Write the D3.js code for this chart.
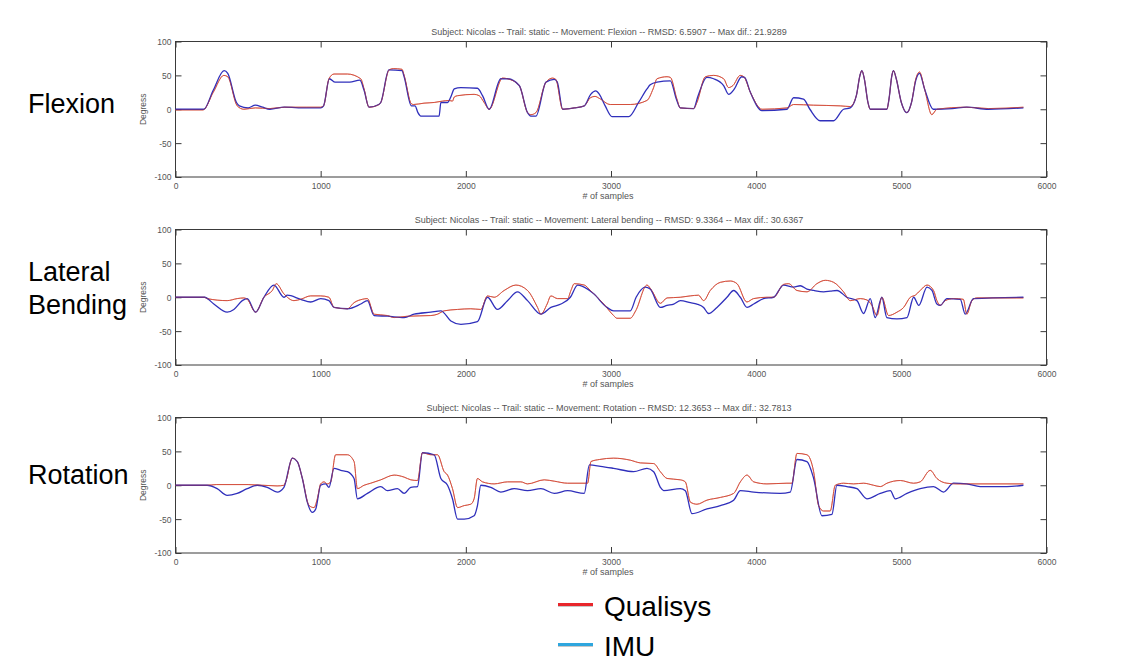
<!DOCTYPE html>
<html>
<head>
<meta charset="utf-8">
<script src="https://cdn.jsdelivr.net/npm/d3@7"></script>
<style>
  html, body { margin: 0; padding: 0; background: #fff; }
  svg { display: block; font-family: Arial, "Liberation Sans", sans-serif; }
</style>
</head>
<body>
<svg id="chart" width="1136" height="662"></svg>
<script>
// sample index vs degrees
var sampleTicks = [0, 1000, 2000, 3000, 4000, 5000, 6000];
var degreeTicks = [-100, -50, 0, 50, 100];

var flexionQualisys = [[0,-1],[190,-1],[260,25],[333,50],[360,48],[425,5],[471,0],[550,2],[650,1],[750,3],[900,3],[1000,3],[1020,5],[1057,45],[1092,52],[1184,52],[1276,45],[1299,30],[1333,3],[1402,7],[1414,10],[1471,58],[1500,60],[1560,59],[1575,50],[1625,8],[1640,7],[1712,9],[1782,10],[1839,12],[1885,13],[1908,12],[1920,18],[1943,20],[2057,22],[2092,20],[2126,10],[2161,0],[2253,46],[2287,45],[2368,35],[2425,-5],[2448,-8],[2483,-5],[2552,40],[2598,46],[2620,44],[2667,0],[2747,2],[2816,5],[2858,17],[2890,19],[2920,16],[2995,7],[3133,7],[3248,13],[3290,30],[3317,45],[3386,48],[3409,47],[3454,15],[3477,2],[3569,1],[3592,10],[3650,48],[3707,50],[3776,45],[3810,32],[3840,35],[3890,50],[3915,48],[3960,25],[4040,0],[4212,2],[4258,7],[4395,6],[4579,5],[4648,4],[4690,20],[4715,50],[4728,57],[4745,45],[4770,10],[4786,0],[4900,0],[4915,15],[4935,50],[4946,57],[4965,45],[5000,10],[5038,-5],[5070,10],[5100,45],[5125,55],[5160,30],[5210,-8],[5245,0],[5450,3],[5600,1],[5841,3]];
var flexionImu = [[0,0],[195,0],[260,28],[335,57],[360,53],[420,10],[440,5],[500,2],[550,6],[600,3],[650,0],[750,3],[900,2],[1000,2],[1020,5],[1060,45],[1100,40],[1200,40],[1270,43],[1299,28],[1333,3],[1400,7],[1414,10],[1470,58],[1560,57],[1575,48],[1625,5],[1650,5],[1670,-5],[1690,-10],[1816,-10],[1828,10],[1874,10],[1900,20],[1920,30],[1966,32],[2080,31],[2115,20],[2161,0],[2241,45],[2287,45],[2368,35],[2425,-5],[2448,-10],[2483,-10],[2552,40],[2609,44],[2630,40],[2667,0],[2747,2],[2816,5],[2860,22],[2895,27],[2920,22],[2960,5],[3007,-11],[3122,-11],[3190,10],[3248,30],[3270,36],[3317,40],[3409,42],[3450,15],[3477,2],[3569,1],[3600,20],[3660,47],[3707,45],[3776,35],[3810,22],[3850,30],[3900,48],[3920,47],[3960,25],[4040,-2],[4212,0],[4258,17],[4326,15],[4370,0],[4441,-17],[4533,-17],[4602,0],[4648,2],[4690,20],[4715,50],[4728,57],[4745,45],[4770,10],[4786,0],[4900,0],[4915,15],[4935,50],[4946,57],[4965,45],[5000,10],[5038,-5],[5070,10],[5100,43],[5125,53],[5160,30],[5220,0],[5350,1],[5451,3],[5600,0],[5841,2]];

var lateralQualisys = [[0,0],[200,0],[218,-2],[356,-5],[425,-2],[471,-1],[494,-3],[552,-22],[609,0],[667,10],[694,20],[747,5],[816,-5],[862,-3],[931,2],[1000,2],[1057,0],[1092,-15],[1184,-17],[1230,-8],[1287,-3],[1322,-2],[1368,-25],[1460,-27],[1506,-30],[1598,-28],[1759,-27],[1805,-25],[1851,-20],[1943,-18],[2034,-17],[2103,-18],[2149,2],[2195,0],[2264,10],[2345,18],[2425,10],[2494,-15],[2517,-25],[2560,-10],[2586,2],[2632,-2],[2701,-2],[2724,10],[2747,20],[2816,18],[2858,10],[2950,-10],[3018,-27],[3040,-31],[3133,-31],[3170,-20],[3248,18],[3280,10],[3340,-9],[3386,-1],[3477,0],[3546,2],[3603,3],[3638,-5],[3684,10],[3753,22],[3822,24],[3868,20],[3936,-7],[3982,-2],[4074,0],[4120,0],[4189,19],[4224,20],[4281,10],[4350,8],[4418,20],[4476,25],[4534,22],[4602,8],[4648,-5],[4717,-2],[4763,-4],[4797,-12],[4832,-27],[4866,0],[4912,-27],[4970,-22],[5016,-15],[5062,0],[5096,3],[5130,10],[5177,18],[5222,10],[5245,-5],[5268,-12],[5302,-5],[5360,-2],[5427,-3],[5451,-25],[5486,-5],[5520,-1],[5841,-1]];
var lateralImu = [[0,0],[200,0],[264,-10],[356,-22],[402,-18],[460,-5],[494,-2],[552,-22],[609,0],[678,18],[747,0],[770,3],[862,-3],[931,-7],[1000,-2],[1057,-5],[1092,-15],[1184,-17],[1276,-10],[1322,-5],[1368,-27],[1460,-28],[1575,-30],[1644,-25],[1759,-22],[1828,-20],[1897,-35],[1966,-40],[2080,-36],[2149,0],[2218,-18],[2287,-5],[2356,8],[2425,-5],[2517,-25],[2586,-15],[2655,-10],[2720,0],[2770,18],[2839,12],[2881,5],[2972,-15],[3018,-20],[3133,-20],[3173,0],[3236,15],[3270,12],[3340,-15],[3386,-12],[3432,-10],[3478,-5],[3547,-8],[3592,-10],[3638,-15],[3672,-24],[3730,-15],[3799,0],[3845,10],[3891,0],[3937,-15],[3983,-10],[4051,-2],[4120,0],[4189,18],[4258,15],[4304,17],[4350,12],[4396,10],[4465,8],[4511,9],[4557,10],[4625,0],[4694,-5],[4740,-24],[4786,-2],[4820,-30],[4866,0],[4900,-30],[4970,-32],[5039,-30],[5085,0],[5120,-12],[5177,15],[5211,10],[5245,-10],[5268,-12],[5314,-2],[5406,-3],[5440,-25],[5497,-2],[5841,0]];

var rotationQualisys = [[0,0],[218,0],[280,1],[500,1],[700,-1],[747,0],[759,5],[805,40],[839,35],[874,10],[920,-30],[954,-33],[977,-20],[1000,2],[1023,5],[1046,2],[1069,5],[1103,45],[1184,45],[1230,35],[1253,-5],[1299,0],[1345,3],[1414,8],[1506,15],[1575,12],[1621,8],[1667,7],[1701,48],[1759,45],[1805,45],[1851,20],[1874,15],[1908,-5],[1943,-33],[1989,-30],[2034,-28],[2057,-20],[2080,10],[2115,5],[2195,2],[2287,5],[2379,5],[2425,2],[2540,8],[2609,6],[2701,3],[2839,3],[2862,35],[2920,38],[3018,40],[3133,37],[3202,33],[3294,32],[3340,20],[3386,10],[3478,8],[3512,5],[3547,-25],[3592,-28],[3661,-22],[3753,-18],[3845,-12],[3891,5],[3937,15],[3983,5],[4074,2],[4212,3],[4246,3],[4281,47],[4350,45],[4396,20],[4430,-30],[4464,-38],[4510,-38],[4545,0],[4602,3],[4671,2],[4740,3],[4809,0],[4855,-2],[4901,3],[4993,7],[5084,3],[5130,5],[5199,22],[5245,10],[5314,3],[5383,2],[5841,2]];
var rotationImu = [[0,0],[218,0],[287,-5],[356,-15],[425,-12],[494,-5],[563,0],[632,-3],[701,-10],[747,-3],[805,40],[839,35],[874,10],[908,-25],[943,-40],[966,-35],[1000,0],[1034,2],[1057,-3],[1092,25],[1138,22],[1184,20],[1230,10],[1253,-20],[1322,-12],[1414,-2],[1460,-8],[1529,-5],[1575,-12],[1621,-3],[1667,-2],[1701,48],[1782,45],[1828,10],[1874,0],[1908,-20],[1943,-50],[1989,-50],[2057,-45],[2080,-30],[2103,0],[2172,-3],[2241,-10],[2333,-5],[2425,-8],[2517,-5],[2609,-12],[2701,-8],[2816,-12],[2851,30],[2927,28],[3018,25],[3156,20],[3248,25],[3294,20],[3340,-3],[3363,-8],[3478,-5],[3512,-8],[3558,-42],[3661,-35],[3753,-30],[3845,-22],[3891,-8],[3983,-10],[4166,-12],[4235,-10],[4281,38],[4350,35],[4396,10],[4453,-45],[4522,-43],[4556,0],[4625,-2],[4694,-5],[4763,-20],[4855,-12],[4924,-8],[4958,-20],[5039,-12],[5130,-5],[5222,-2],[5291,-10],[5360,3],[5451,2],[5543,-2],[5727,-2],[5841,0]];

var panelNames = ["Flexion", "Lateral bending", "Rotation"];
var sideLabels = [["Flexion"], ["Lateral", "Bending"], ["Rotation"]];
var rmsd = ["6.5907", "9.3364", "12.3653"];
var maxDif = ["21.9289", "30.6367", "32.7813"];
var qualisysSeries = [flexionQualisys, lateralQualisys, rotationQualisys];
var imuSeries = [flexionImu, lateralImu, rotationImu];
var legendItems = ["Qualisys", "IMU"];

var svg = d3.select("#chart");
var left = 175.5, right = 1046.5, plotH = 135.5;
var tops = [41.5, 229.5, 417.5];
// baseline offsets of the big side labels from the zero line
var labelOffsets = [[4], [-16, 17], [-1]];

var x = d3.scaleLinear().domain([0, 6000]).range([left, right]);
var redColor = "#d4503e", blueColor = "#1818b4";
var plain = function(d){ return String(d); };

panelNames.forEach(function(name, i){
    var top = tops[i];
    var y = d3.scaleLinear().domain([-100, 100]).range([top + plotH, top]);
    var g = svg.append("g");

    // box and inward ticks, matlab style
    g.append("rect")
        .attr("x", left).attr("y", top)
        .attr("width", right - left).attr("height", plotH)
        .attr("fill", "#fff").attr("stroke", "#3a3a3a").attr("stroke-width", 1);

    var xb = g.append("g").attr("transform", "translate(0," + (top + plotH) + ")")
        .call(d3.axisBottom(x).tickValues(sampleTicks).tickFormat(plain).tickSizeInner(-6).tickSizeOuter(0).tickPadding(4));
    var xt = g.append("g").attr("transform", "translate(0," + top + ")")
        .call(d3.axisTop(x).tickValues(sampleTicks).tickSizeInner(-6).tickSizeOuter(0).tickFormat(""));
    var yl = g.append("g").attr("transform", "translate(" + left + ",0)")
        .call(d3.axisLeft(y).tickValues(degreeTicks).tickFormat(plain).tickSizeInner(-6).tickSizeOuter(0).tickPadding(4));
    var yr = g.append("g").attr("transform", "translate(" + right + ",0)")
        .call(d3.axisRight(y).tickValues(degreeTicks).tickSizeInner(-6).tickSizeOuter(0).tickFormat(""));

    [xb, xt, yl, yr].forEach(function(a){
        a.select(".domain").remove();
        a.selectAll("line").attr("stroke", "#3a3a3a");
        a.selectAll("text").attr("fill", "#555").style("font-size", "8.5px")
            .style("font-family", "Arial, 'Liberation Sans', sans-serif");
    });
    xb.selectAll("text").attr("dy", "0.9em");
    yl.selectAll("text").attr("dy", "0.35em");

    var line = d3.line()
        .x(function(d){ return x(d[0]); })
        .y(function(d){ return y(d[1]); })
        .curve(d3.curveMonotoneX);

    g.append("path").datum(qualisysSeries[i])
        .attr("d", line).attr("fill", "none")
        .attr("stroke", redColor).attr("stroke-width", 1);
    g.append("path").datum(imuSeries[i])
        .attr("d", line).attr("fill", "none")
        .attr("stroke", blueColor).attr("stroke-width", 1.3).attr("stroke-opacity", 0.9);
    g.append("path").datum(qualisysSeries[i])
        .attr("d", line).attr("fill", "none")
        .attr("stroke", redColor).attr("stroke-width", 0.8).attr("stroke-opacity", 0.6);

    g.append("text")
        .attr("x", 609).attr("y", top - 7)
        .attr("text-anchor", "middle").attr("fill", "#555").style("font-size", "9px")
        .text("Subject: Nicolas -- Trail: static -- Movement: " + name + " -- RMSD: " + rmsd[i] + " -- Max dif.: " + maxDif[i]);

    g.append("text")
        .attr("x", 608).attr("y", top + plotH + 22)
        .attr("text-anchor", "middle").attr("fill", "#555").style("font-size", "9px")
        .text("# of samples");

    g.append("text")
        .attr("transform", "translate(146," + y(0) + ") rotate(-90)")
        .attr("text-anchor", "middle").attr("fill", "#555").style("font-size", "8.5px")
        .text("Degress");

    sideLabels[i].forEach(function(t, k){
        g.append("text")
            .attr("x", 28).attr("y", y(0) + labelOffsets[i][k])
            .attr("fill", "#000").style("font-size", "27px")
            .text(t);
    });
});

// legend
var legendColors = ["#e8262b", "#2ea6de"];
var legend = svg.append("g");
legendItems.forEach(function(t, k){
    var ly = 604.5 + k * 40;
    legend.append("line")
        .attr("x1", 558).attr("x2", 593).attr("y1", ly + 1.5).attr("y2", ly + 1.5)
        .attr("stroke", "#c8c8c8").attr("stroke-width", 2);
    legend.append("line")
        .attr("x1", 558).attr("x2", 593).attr("y1", ly).attr("y2", ly)
        .attr("stroke", legendColors[k]).attr("stroke-width", 3);
    legend.append("text")
        .attr("x", 604).attr("y", ly + 11.5)
        .attr("fill", "#000").style("font-size", "28px")
        .text(t);
});
</script>
</body>
</html>
